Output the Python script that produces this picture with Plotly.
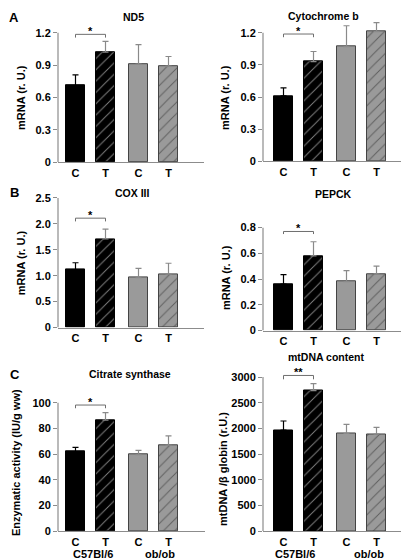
import plotly.graph_objects as go

W, H = 409, 560

# ---------------- data ----------------
groups = ["C", "T", "C", "T"]
strains = ["C57Bl/6", "ob/ob"]

nd5 = [0.71, 1.02, 0.91, 0.89]
nd5_err = [0.10, 0.10, 0.18, 0.09]

cytb = [0.61, 0.93, 1.07, 1.21]
cytb_err = [0.075, 0.095, 0.195, 0.085]

cox3 = [1.12, 1.71, 0.96, 1.03]
cox3_err = [0.13, 0.19, 0.18, 0.21]

pepck = [0.36, 0.58, 0.38, 0.44]
pepck_err = [0.075, 0.11, 0.085, 0.06]

citrate = [62, 86.5, 59.6, 67]
citrate_err = [3.3, 5.8, 3.4, 7.2]

mtdna = [1970, 2735, 1905, 1890]
mtdna_err = [175, 135, 175, 130]

# significance (bracket level, label)
sig_nd5 = (1.185, "*")
sig_cytb = (1.188, "*")
sig_cox3 = (2.11, "*")
sig_pepck = (0.77, "*")
sig_citrate = (98.2, "*")
sig_mtdna = (3030, "**")

tick_nd5 = ([0, 0.3, 0.6, 0.9, 1.2], ["0", "0.3", "0.6", "0.9", "1.2"])
tick_cytb = ([0, 0.3, 0.6, 0.9, 1.2], ["0", "0.3", "0.6", "0.9", "1.2"])
tick_cox3 = ([0, 0.5, 1.0, 1.5, 2.0, 2.5], ["0", "0.5", "1.0", "1.5", "2.0", "2.5"])
tick_pepck = ([0, 0.2, 0.4, 0.6, 0.8], ["0", "0.2", "0.4", "0.6", "0.8"])
tick_citrate = ([0, 20, 40, 60, 80, 100], ["0", "20", "40", "60", "80", "100"])
tick_mtdna = ([0, 500, 1000, 1500, 2000, 2500, 3000],
              ["0", "500", "1000", "1500", "2000", "2500", "3000"])

# ---------------- styles ----------------
positions = [0, 1, 2.1, 3.1]
bar_width = 0.63
fill = ["black", "black", "#9a9a9a", "#9a9a9a"]
outline = ["black", "black", "#444444", "#444444"]
hatch = ["", "/", "", "/"]
hatch_fg = ["white", "white", "#222222", "#222222"]
err_col = ["black", "#8a8a8a", "#8a8a8a", "#8a8a8a"]
AXC = "#8c8c8c"
FONT = "Arial, Liberation Sans, Helvetica, sans-serif"
HEADROOM = 1.12


def px_x(p):
    return p / W


def px_y(p):
    return 1 - p / H


panels = [
    dict(v=nd5, e=nd5_err, sig=sig_nd5, ticks=tick_nd5, title="ND5", ytitle="mRNA (r. U.)",
         xd=(50, 196), yd=(25, 156), x0=67.5, tpos=(126, 9), ypos=(13, 91),
         letter=("A", 6, 10), strain_x=None),
    dict(v=cytb, e=cytb_err, sig=sig_cytb, ticks=tick_cytb, title="Cytochrome b", ytitle="mRNA (r. U.)",
         xd=(255, 404), yd=(25, 155), x0=275.5, tpos=(315, 8), ypos=(217, 90),
         letter=None, strain_x=None),
    dict(v=cox3, e=cox3_err, sig=sig_cox3, ticks=tick_cox3, title="COX III", ytitle="mRNA (r. U.)",
         xd=(50, 196), yd=(192, 323), x0=67.5, tpos=(124, 187), ypos=(13, 258),
         letter=("B", 6, 187), strain_x=None),
    dict(v=pepck, e=pepck_err, sig=sig_pepck, ticks=tick_pepck, title="PEPCK", ytitle="mRNA (r. U.)",
         xd=(255, 406), yd=(222, 326), x0=275.5, tpos=(325, 188), ypos=(218, 273),
         letter=None, strain_x=None),
    dict(v=citrate, e=citrate_err, sig=sig_citrate, ticks=tick_citrate, title="Citrate synthase",
         ytitle="Enzymatic activity (IU/g ww)",
         xd=(50, 197), yd=(399, 529), x0=67.5, tpos=(122, 370), ypos=(8, 460),
         letter=("C", 7, 370), strain_x=[0.58, 2.82]),
    dict(v=mtdna, e=mtdna_err, sig=sig_mtdna, ticks=tick_mtdna, title="mtDNA content",
         ytitle="mtDNA /β globin (r.U.)",
         xd=(255, 406), yd=(373, 529), x0=275.5, tpos=(318, 353), ypos=(215, 466),
         letter=None, strain_x=[0.38, 2.85]),
]

fig = go.Figure()
annotations = []
shapes = []
unit_px = 30.0

for i, p in enumerate(panels):
    n = i + 1
    xa = "x" if n == 1 else f"x{n}"
    ya = "y" if n == 1 else f"y{n}"
    for k in range(4):
        fig.add_trace(go.Bar(
            x=[positions[k]], y=[p["v"][k]], width=bar_width,
            xaxis=xa, yaxis=ya, showlegend=False, cliponaxis=False,
            marker=dict(color=fill[k], line=dict(color=outline[k], width=1),
                        pattern=dict(shape=hatch[k], fgcolor=hatch_fg[k], bgcolor=fill[k],
                                     size=8, solidity=0.12)),
            error_y=dict(type="data", array=[p["e"][k]], arrayminus=[0], symmetric=False,
                         color=err_col[k], thickness=1.2, width=3),
        ))
    left = (p["xd"][0] - p["x0"]) / unit_px
    right = (p["xd"][1] - p["x0"]) / unit_px
    tv, tt = p["ticks"]
    top = tv[-1]
    ytop_px = p["yd"][1] - (p["yd"][1] - p["yd"][0]) * HEADROOM
    xkey = "xaxis" if n == 1 else f"xaxis{n}"
    ykey = "yaxis" if n == 1 else f"yaxis{n}"
    fig.update_layout(**{
        xkey: dict(domain=[px_x(p["xd"][0]), px_x(p["xd"][1])], range=[left, right],
                   anchor=ya, tickvals=positions, ticktext=groups, ticks="",
                   showline=True, linecolor=AXC, linewidth=1.2, showgrid=False, zeroline=False,
                   tickfont=dict(family=FONT, size=11, color="black", weight="bold"),
                   fixedrange=True),
        ykey: dict(domain=[px_y(p["yd"][1]), px_y(ytop_px)], range=[0, top * HEADROOM],
                   anchor=xa, tickvals=tv, ticktext=tt, ticks="outside", ticklen=4,
                   tickcolor=AXC, tickwidth=1.2, showline=False,
                   showgrid=False, zeroline=False,
                   tickfont=dict(family=FONT, size=11, color="black", weight="bold"),
                   fixedrange=True),
    })
    # y axis line from 0 to the last tick
    shapes.append(dict(type="line", xref=f"{xa} domain", yref=ya, x0=0, x1=0, y0=0, y1=top,
                       line=dict(color=AXC, width=1.2)))
    # significance bracket
    lvl, lab = p["sig"]
    dip = top * 0.025
    shapes.append(dict(type="path", xref=xa, yref=ya,
                       path=f"M {positions[0]},{lvl - dip} L {positions[0]},{lvl} "
                            f"L {positions[1]},{lvl} L {positions[1]},{lvl - dip}",
                       line=dict(color="#6e6e6e", width=1)))
    annotations.append(dict(x=(positions[0] + positions[1]) / 2, y=lvl, xref=xa, yref=ya,
                            text=f"<b>{lab}</b>", showarrow=False, yanchor="bottom", yshift=-4,
                            borderpad=0,
                            font=dict(family=FONT, size=11, color="black")))
    # title
    annotations.append(dict(x=px_x(p["tpos"][0]), y=px_y(p["tpos"][1]), xref="paper", yref="paper",
                            text=f"<b>{p['title']}</b>", showarrow=False, borderpad=0,
                            xanchor="center", yanchor="middle",
                            font=dict(family=FONT, size=10.5, color="black")))
    # y title
    annotations.append(dict(x=px_x(p["ypos"][0]), y=px_y(p["ypos"][1]), xref="paper", yref="paper",
                            text=f"<b>{p['ytitle']}</b>", showarrow=False, textangle=-90,
                            xanchor="center", yanchor="middle",
                            font=dict(family=FONT, size=11, color="black")))
    if p["letter"]:
        L, lx, ly = p["letter"]
        annotations.append(dict(x=px_x(lx), y=px_y(ly), xref="paper", yref="paper",
                                text=f"<b>{L}</b>", showarrow=False,
                                xanchor="center", yanchor="middle",
                                font=dict(family=FONT, size=13, color="black")))
    if p["strain_x"]:
        for s, sx in zip(strains, p["strain_x"]):
            annotations.append(dict(x=sx, y=px_y(552), xref=xa, yref="paper",
                                    text=f"<b>{s}</b>", showarrow=False,
                                    xanchor="center", yanchor="middle", borderpad=0,
                                    font=dict(family=FONT, size=11, color="black")))

fig.update_layout(width=W, height=H, margin=dict(l=0, r=0, t=0, b=0),
                  paper_bgcolor="white", plot_bgcolor="white",
                  annotations=annotations, shapes=shapes, bargap=0)

fig.write_html("out.html")
